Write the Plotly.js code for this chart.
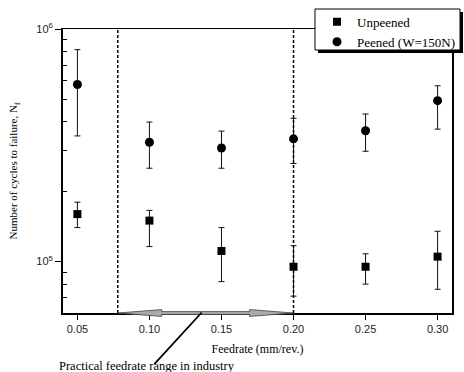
<!DOCTYPE html>
<html>
<head>
<meta charset="utf-8">
<script src="https://cdn.plot.ly/plotly-3.0.1.min.js"></script>
<style>html,body{margin:0;padding:0;background:#fff;}#chart{width:464px;height:372px;}</style>
</head>
<body>
<div id="chart"></div>
<script>
// Data
const feedrate = [0.05, 0.10, 0.15, 0.20, 0.25, 0.30];
const unpeened = [160000, 150000, 111000, 95000, 95000, 105000];
const unpeenedHi = [180000, 166000, 140000, 117000, 108000, 135000];
const unpeenedLo = [140000, 116000, 82000, 71000, 80000, 76000];
const peened = [577000, 326000, 308000, 337000, 365000, 492000];
const peenedHi = [815000, 398000, 364000, 413000, 431000, 570000];
const peenedLo = [347000, 252000, 252000, 264000, 298000, 371000];
const xTickVals = [0.05, 0.10, 0.15, 0.20, 0.25, 0.30];
const xTickText = ["0.05", "0.10", "0.15", "0.20", "0.25", "0.30"];
const yTickVals = [1e5, 1e6];
const yTickText = ["10<sup>5</sup>", "10<sup>6</sup>"];
const yMinorVals = [7e4, 8e4, 9e4, 2e5, 3e5, 4e5, 5e5, 6e5, 7e5, 8e5, 9e5];
const rangeStart = 0.078, rangeEnd = 0.20;
const seriesNames = ["Unpeened", "Peened (W=150N)"];
const annotationText = "Practical feedrate range in industry";

const plus = (v, hi) => hi.map((h, i) => h - v[i]);
const minus = (v, lo) => lo.map((l, i) => v[i] - l);

const traces = [
  {
    x: feedrate, y: unpeened, name: seriesNames[0], type: 'scatter', mode: 'markers',
    marker: {symbol: 'square', size: 8, color: '#000'},
    error_y: {type: 'data', symmetric: false, array: plus(unpeened, unpeenedHi), arrayminus: minus(unpeened, unpeenedLo),
              color: '#111', thickness: 1, width: 3}
  },
  {
    x: feedrate, y: peened, name: seriesNames[1], type: 'scatter', mode: 'markers',
    marker: {symbol: 'circle', size: 9, color: '#000'},
    error_y: {type: 'data', symmetric: false, array: plus(peened, peenedHi), arrayminus: minus(peened, peenedLo),
              color: '#111', thickness: 1, width: 3}
  }
];

const serif = 'Liberation Serif, Times New Roman, serif';
const sans = 'Liberation Sans, Arial, sans-serif';

const arrowPath = (a, b) => {
  const w = b - a;
  const h1 = 0.012, h0 = 0.005, head = 0.25 * w;
  return `M ${a} 0 L ${a + head} ${h1} L ${a + head} ${h0} L ${b - head} ${h0} L ${b - head} ${h1} L ${b} 0 ` +
         `L ${b - head} ${-h1} L ${b - head} ${-h0} L ${a + head} ${-h0} L ${a + head} ${-h1} Z`;
};

const layout = {
  width: 464, height: 372,
  margin: {l: 63, r: 12, t: 29, b: 59, autoexpand: false},
  paper_bgcolor: '#fff', plot_bgcolor: '#fff',
  showlegend: true,
  legend: {
    x: 0.653, y: 1.078, xanchor: 'left', yanchor: 'top',
    bgcolor: 'rgba(0,0,0,0)', borderwidth: 0,
    font: {family: serif, size: 13, color: '#000'},
    itemwidth: 30, tracegroupgap: 0
  },
  xaxis: {
    range: [0.04, 0.31],
    tickvals: xTickVals, ticktext: xTickText,
    ticks: 'outside', ticklen: 5, tickwidth: 1, tickcolor: '#000',
    showline: true, linecolor: '#000', linewidth: 1.5, mirror: true,
    showgrid: false, zeroline: false,
    tickfont: {family: sans, size: 11, color: '#222'},
    title: {text: 'Feedrate (mm/rev.)', font: {family: serif, size: 12, color: '#000'}, standoff: 11}
  },
  yaxis: {
    type: 'log',
    range: [Math.log10(60100), 6],
    tickvals: yTickVals, ticktext: yTickText,
    ticks: 'outside', ticklen: 6, tickwidth: 1, tickcolor: '#000',
    minor: {tickvals: yMinorVals, ticks: 'inside', ticklen: 4, tickcolor: '#000', showgrid: false},
    showline: true, linecolor: '#000', linewidth: 2, mirror: true,
    showgrid: false, zeroline: false,
    tickfont: {family: sans, size: 11, color: '#222'},
    title: {text: 'Number of cycles to failure, N<sub>f</sub>', font: {family: serif, size: 11, color: '#000'}, standoff: 16}
  },
  shapes: [
    {type: 'line', xref: 'x', yref: 'paper', x0: rangeStart, x1: rangeStart, y0: 0, y1: 1,
     line: {color: '#000', width: 1.5, dash: '3px,2px'}},
    {type: 'line', xref: 'x', yref: 'paper', x0: rangeEnd, x1: rangeEnd, y0: 0, y1: 1,
     line: {color: '#000', width: 1.5, dash: '3px,2px'}},
    {type: 'path', xref: 'x', yref: 'paper', path: arrowPath(rangeStart, rangeEnd),
     fillcolor: '#aaa', line: {color: '#444', width: 0.8}},
    // legend box shadow and frame
    {type: 'rect', xref: 'paper', yref: 'paper', x0: 0.6555, x1: 1.0283, y0: 0.9155, y1: 1.0599,
     fillcolor: '#000', line: {width: 0}, layer: 'above'},
    {type: 'rect', xref: 'paper', yref: 'paper', x0: 0.6478, x1: 1.0206, y0: 0.9261, y1: 1.0704,
     fillcolor: '#fff', line: {color: '#000', width: 1}, layer: 'above'}
  ],
  annotations: [
    {xref: 'paper', yref: 'paper', x: -0.015, y: -0.185, xanchor: 'left', yanchor: 'middle',
     text: annotationText, showarrow: false,
     font: {family: serif, size: 12.5, color: '#000'}},
    {xref: 'x', yref: 'paper', x: 0.1034, y: -0.18, ax: 0.1372, ay: 0.007, axref: 'x', ayref: 'paper',
     text: '', showarrow: true, arrowhead: 0, arrowwidth: 1.8, arrowcolor: '#000'}
  ]
};

Plotly.newPlot('chart', traces, layout, {displayModeBar: false, staticPlot: true});
</script>
</body>
</html>
